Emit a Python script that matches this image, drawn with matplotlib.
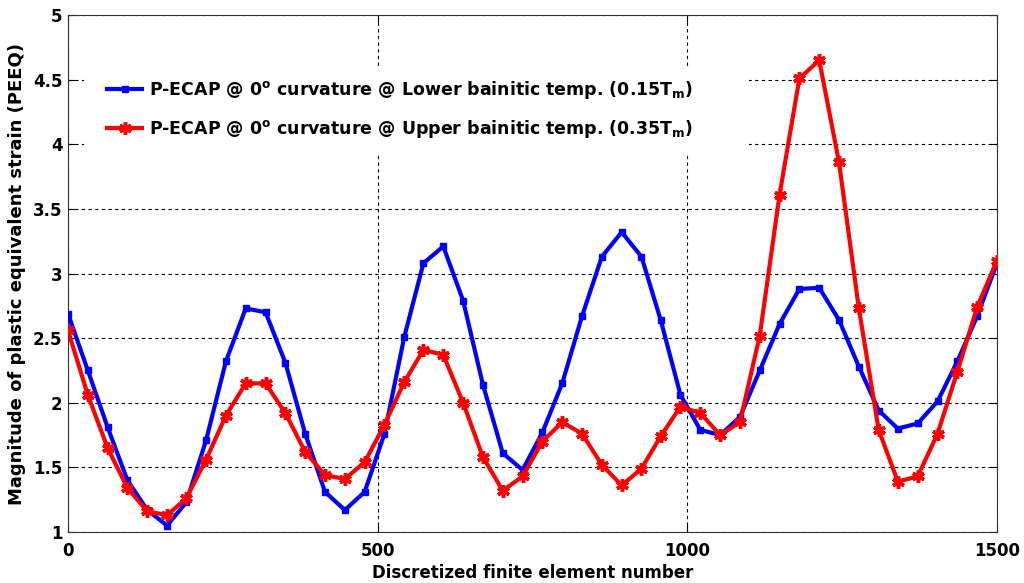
import matplotlib
matplotlib.use("Agg")
import matplotlib.pyplot as plt
from matplotlib.patches import Rectangle

plt.rcParams["mathtext.default"] = "regular"

# element numbers where results were sampled
elements = [0, 32, 64, 96, 128, 160, 191, 223, 255, 287, 319, 351, 383, 415, 447, 479,
            511, 543, 574, 606, 638, 670, 702, 734, 766, 798, 830, 862, 894, 926, 957, 989,
            1021, 1053, 1085, 1117, 1149, 1181, 1213, 1245, 1277, 1309, 1340, 1372, 1404,
            1436, 1468, 1500]

# PEEQ, lower bainitic temperature (0.15 Tm)
peeq_lower = [2.69, 2.25, 1.81, 1.40, 1.17, 1.05, 1.23, 1.71, 2.32, 2.73, 2.70, 2.31,
              1.76, 1.31, 1.17, 1.31, 1.76, 2.51, 3.08, 3.21, 2.79, 2.14, 1.61, 1.48,
              1.77, 2.15, 2.67, 3.13, 3.32, 3.13, 2.64, 2.06, 1.79, 1.75, 1.89, 2.25,
              2.61, 2.88, 2.89, 2.64, 2.28, 1.94, 1.80, 1.84, 2.01, 2.32, 2.67, 3.08]

# PEEQ, upper bainitic temperature (0.35 Tm)
peeq_upper = [2.56, 2.06, 1.65, 1.34, 1.16, 1.13, 1.26, 1.56, 1.90, 2.15, 2.15, 1.92,
              1.62, 1.44, 1.41, 1.54, 1.83, 2.16, 2.41, 2.37, 2.00, 1.58, 1.32, 1.43,
              1.70, 1.85, 1.76, 1.52, 1.36, 1.49, 1.74, 1.97, 1.92, 1.75, 1.85, 2.52,
              3.61, 4.51, 4.65, 3.86, 2.73, 1.79, 1.39, 1.43, 1.76, 2.24, 2.74, 3.10]

xticks = [0, 500, 1000, 1500]
yticks = [1, 1.5, 2, 2.5, 3, 3.5, 4, 4.5, 5]
ytick_labels = ["1", "1.5", "2", "2.5", "3", "3.5", "4", "4.5", "5"]

label_lower = r"P-ECAP @ 0$^{o}$ curvature @ Lower bainitic temp. (0.15T$_{m}$)"
label_upper = r"P-ECAP @ 0$^{o}$ curvature @ Upper bainitic temp. (0.35T$_{m}$)"

fig = plt.figure(figsize=(10.24, 5.83), dpi=100)
ax = fig.add_axes([0.0664, 0.0875, 0.9072, 0.8867])

ax.plot(elements, peeq_lower, color="#0000ff", linewidth=3, marker="s",
        markersize=5, zorder=3, label=label_lower)
ax.plot(elements, peeq_upper, color="#ff0000", linewidth=3, marker=(6, 2, 0),
        markersize=9, markeredgewidth=2.5, zorder=4, label=label_upper)

ax.set_xlim(0, 1500)
ax.set_ylim(1, 5)
ax.set_xticks(xticks)
ax.set_yticks(yticks)
ax.set_yticklabels(ytick_labels)
ax.tick_params(direction="in", length=5, top=True, right=True, labelsize=12)
ax.tick_params(axis="x", pad=7)
ax.tick_params(axis="y", pad=4)
for lbl in ax.get_xticklabels() + ax.get_yticklabels():
    lbl.set_fontweight("bold")

ax.grid(True, color="black", linestyle=(0, (3, 3)), linewidth=0.8)
for s in ax.spines.values():
    s.set_color("#333333")

# white area behind legend hides the grid there
ax.add_patch(Rectangle((0.017, 0.733), 0.716, 0.164, transform=ax.transAxes,
                       facecolor="white", edgecolor="none", zorder=2))

leg = ax.legend(loc="upper left", bbox_to_anchor=(0.035, 0.89), frameon=False,
                prop={"size": 12.5, "weight": "bold"}, handlelength=2.0,
                handletextpad=0.4, labelspacing=1.0, borderaxespad=0)
leg.set_zorder(5)

ax.set_xlabel("Discretized finite element number", fontsize=12, fontweight="bold", labelpad=3)
ax.set_ylabel("Magnitude of plastic equivalent strain (PEEQ)", fontsize=13,
              fontweight="bold", labelpad=5)

fig.savefig("out.png", dpi=100)
